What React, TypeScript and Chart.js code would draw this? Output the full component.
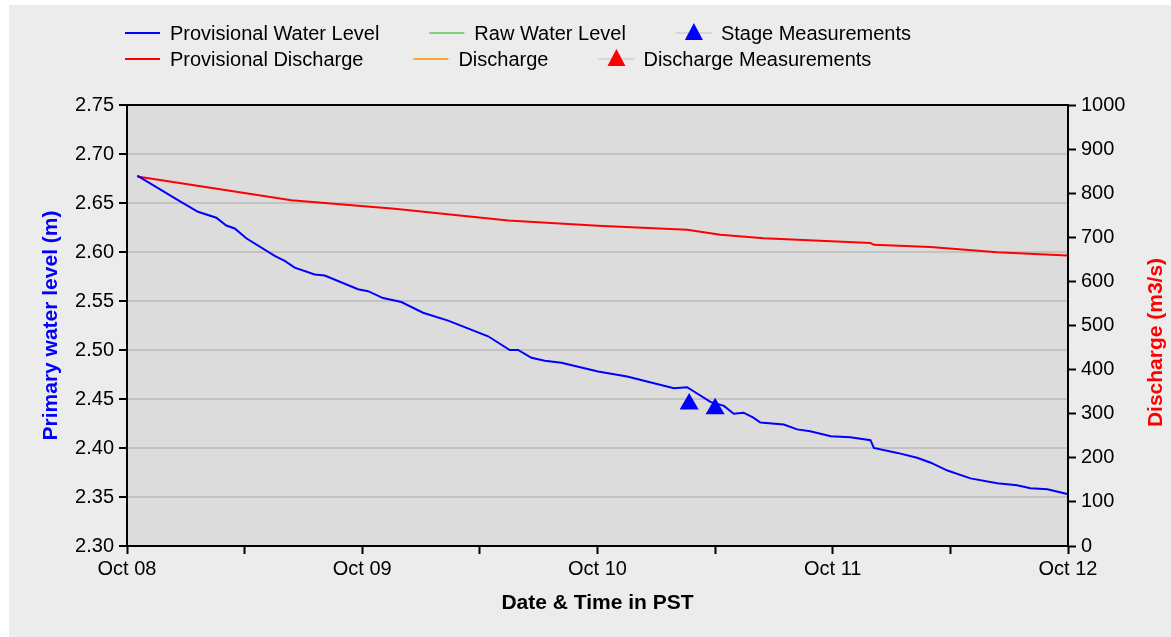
import React, { useEffect, useRef } from 'react';
import { Chart, registerables } from 'chart.js';

Chart.register(...registerables);

// ---- Data (x = hours since Oct 08 00:00 PST) ----
const xTickLabels = ['Oct 08', 'Oct 09', 'Oct 10', 'Oct 11', 'Oct 12'];

const levelHours = [
  1.05, 5.2, 7.24, 9.11, 10.13, 10.99, 12.17, 15.07, 16.09, 17.11, 19.15, 20.17,
  23.57, 24.59, 26.12, 27.99, 30.2, 32.76, 36.84, 39.05, 39.9, 41.26, 42.62, 44.32,
  48.06, 51.02, 55.79, 57.14, 59.52, 60.9, 61.9, 62.9, 63.9, 64.62, 67.0, 68.37,
  69.7, 71.8, 73.8, 75.85, 76.19, 78.6, 80.6, 82.0, 83.7, 86.05, 88.78, 90.8,
  92.17, 93.9, 95.92,
];
const levelValues = [
  2.678, 2.653, 2.641, 2.635, 2.627, 2.624, 2.614, 2.596, 2.591, 2.584, 2.577, 2.576,
  2.562, 2.56, 2.553, 2.549, 2.538, 2.53, 2.514, 2.5, 2.5, 2.492, 2.489, 2.487,
  2.478, 2.473, 2.461, 2.462, 2.447, 2.443, 2.435, 2.436, 2.431, 2.426, 2.424, 2.419,
  2.417, 2.412, 2.411, 2.408, 2.4, 2.395, 2.39, 2.385, 2.377, 2.369, 2.364, 2.362,
  2.359, 2.358, 2.353,
];

const dischargeHours = [1.05, 8, 16.77, 27.3, 38.88, 48.06, 57.14, 60.54, 64.97, 75.85, 76.2, 81.97, 88.78, 95.92];
const dischargeValues = [838, 814, 784, 765, 738, 726, 717, 706, 698, 687, 683, 678, 666, 659];

const stageHours = [57.35, 60.0];
const stageValues = [2.445, 2.44];

const legendRows = [
  ['Provisional Water Level', 'Raw Water Level', 'Stage Measurements'],
  ['Provisional Discharge', 'Discharge', 'Discharge Measurements'],
];

const leftTitle = 'Primary water level (m)';
const rightTitle = 'Discharge (m3/s)';
const bottomTitle = 'Date & Time in PST';

const FONT = "'Liberation Sans', Arial, sans-serif";

const pts = (xs: number[], ys: number[]) => xs.map((x, i) => ({ x, y: ys[i] }));

const decorPlugin = {
  id: 'decor',
  beforeDraw(chart: any) {
    const { ctx, width, height, chartArea } = chart;
    ctx.save();
    ctx.fillStyle = '#ffffff';
    ctx.fillRect(0, 0, width, height);
    ctx.fillStyle = '#ececec';
    ctx.fillRect(9, 5, width - 9, height - 5);
    ctx.fillStyle = '#dcdcdc';
    ctx.fillRect(chartArea.left, chartArea.top, chartArea.right - chartArea.left, chartArea.bottom - chartArea.top);
    ctx.restore();
  },
  afterDraw(chart: any) {
    const { ctx, chartArea } = chart;
    ctx.save();
    // top frame line
    ctx.strokeStyle = '#000';
    ctx.lineWidth = 2;
    ctx.beginPath();
    ctx.moveTo(chartArea.left, chartArea.top);
    ctx.lineTo(chartArea.right, chartArea.top);
    ctx.stroke();

    // right axis title (reads bottom to top)
    const y1 = chart.scales.y1;
    ctx.translate(y1.right - 15, (chartArea.top + chartArea.bottom) / 2 + 17);
    ctx.rotate(-Math.PI / 2);
    ctx.font = `bold 21px ${FONT}`;
    ctx.fillStyle = '#ff0000';
    ctx.textAlign = 'center';
    ctx.textBaseline = 'middle';
    ctx.fillText(rightTitle, 0, 0);
    ctx.restore();

    // legend
    ctx.save();
    ctx.font = `20px ${FONT}`;
    ctx.textBaseline = 'middle';
    ctx.textAlign = 'left';
    legendRows.forEach((row, ri) => {
      let x = 125;
      const y = 33 + ri * 26;
      row.forEach((label) => {
        const ds: any = chart.data.datasets.find((d: any) => d.label === label);
        const color = ds.borderColor;
        if (ds.showLine === false) {
          ctx.strokeStyle = '#d6d6d6';
          ctx.lineWidth = 2;
          ctx.beginPath();
          ctx.moveTo(x, y);
          ctx.lineTo(x + 36, y);
          ctx.stroke();
          ctx.fillStyle = ds.backgroundColor;
          ctx.beginPath();
          ctx.moveTo(x + 18, y - 10);
          ctx.lineTo(x + 27, y + 7);
          ctx.lineTo(x + 9, y + 7);
          ctx.closePath();
          ctx.fill();
        } else {
          ctx.strokeStyle = color;
          ctx.lineWidth = 2;
          ctx.beginPath();
          ctx.moveTo(x, y);
          ctx.lineTo(x + 35, y);
          ctx.stroke();
        }
        ctx.fillStyle = '#000';
        ctx.fillText(label, x + 45, y + 1);
        x += 45 + ctx.measureText(label).width + 50;
      });
    });
    ctx.restore();
  },
};

export default function App() {
  const canvasRef = useRef<HTMLCanvasElement | null>(null);

  useEffect(() => {
    if (!canvasRef.current) return;
    Chart.defaults.font.family = FONT;
    Chart.defaults.font.size = 20;
    Chart.defaults.color = '#000';

    const chart = new Chart(canvasRef.current, {
      type: 'line',
      data: {
        datasets: [
          {
            label: 'Stage Measurements',
            data: pts(stageHours, stageValues),
            yAxisID: 'y',
            showLine: false,
            borderColor: '#0000ff',
            backgroundColor: '#0000ff',
            pointStyle: 'triangle',
            pointRadius: 11,
            pointBorderWidth: 0,
            order: -1,
          },
          {
            label: 'Discharge Measurements',
            data: [],
            yAxisID: 'y1',
            showLine: false,
            borderColor: '#ff0000',
            backgroundColor: '#ff0000',
            pointStyle: 'triangle',
            pointRadius: 11,
            pointBorderWidth: 0,
            order: -1,
          },
          {
            label: 'Provisional Water Level',
            data: pts(levelHours, levelValues),
            yAxisID: 'y',
            borderColor: '#0000ff',
            backgroundColor: '#0000ff',
            borderWidth: 2,
            pointRadius: 0,
            tension: 0,
          },
          {
            label: 'Raw Water Level',
            data: [],
            yAxisID: 'y',
            borderColor: '#80d080',
            backgroundColor: '#80d080',
            borderWidth: 2,
            pointRadius: 0,
          },
          {
            label: 'Provisional Discharge',
            data: pts(dischargeHours, dischargeValues),
            yAxisID: 'y1',
            borderColor: '#ff0000',
            backgroundColor: '#ff0000',
            borderWidth: 2,
            pointRadius: 0,
            tension: 0,
          },
          {
            label: 'Discharge',
            data: [],
            yAxisID: 'y1',
            borderColor: '#f7a833',
            backgroundColor: '#f7a833',
            borderWidth: 2,
            pointRadius: 0,
          },
        ],
      },
      options: {
        animation: false,
        responsive: true,
        maintainAspectRatio: false,
        layout: { padding: { top: 105, left: 0, right: 0, bottom: 0 } },
        plugins: {
          legend: { display: false },
          tooltip: { enabled: false },
        },
        scales: {
          x: {
            type: 'linear',
            min: 0,
            max: 96,
            afterFit: (s: any) => {
              s.height = 91;
            },
            ticks: {
              stepSize: 12,
              autoSkip: false,
              maxRotation: 0,
              padding: 3,
              color: '#000',
              font: { size: 20 },
              callback: (v: any) => (Number(v) % 24 === 0 ? xTickLabels[Number(v) / 24] : ''),
            },
            grid: {
              drawOnChartArea: false,
              drawTicks: true,
              tickLength: 8,
              tickColor: '#000',
              tickWidth: 2,
            },
            border: { color: '#000', width: 2 },
            title: {
              display: true,
              text: bottomTitle,
              color: '#000',
              font: { size: 21, weight: 'bold' },
              padding: { top: 0, bottom: 21 },
            },
          },
          y: {
            type: 'linear',
            position: 'left',
            min: 2.3,
            max: 2.75,
            afterFit: (s: any) => {
              s.width = 127;
            },
            ticks: {
              stepSize: 0.05,
              padding: 5,
              color: '#000',
              font: { size: 20 },
              callback: (v: any) => Number(v).toFixed(2),
            },
            grid: {
              color: '#c2c2c2',
              lineWidth: 2,
              tickColor: '#000',
              tickLength: 8,
              tickWidth: 2,
            },
            border: { color: '#000', width: 2 },
            title: {
              display: true,
              text: leftTitle,
              color: '#0000ff',
              font: { size: 21, weight: 'bold' },
              padding: { top: 39, bottom: 0 },
            },
          },
          y1: {
            type: 'linear',
            position: 'right',
            min: 0,
            max: 1000,
            afterFit: (s: any) => {
              s.width = 103;
            },
            ticks: {
              stepSize: 100,
              padding: 5,
              color: '#000',
              font: { size: 20 },
              callback: (v: any) => String(Math.round(Number(v))),
            },
            grid: {
              drawOnChartArea: false,
              tickColor: '#000',
              tickLength: 8,
              tickWidth: 2,
            },
            border: { color: '#000', width: 2 },
          },
        },
      } as any,
      plugins: [decorPlugin],
    });
    return () => chart.destroy();
  }, []);

  return (
    <div style={{ position: 'absolute', left: 0, top: 0, width: 1171, height: 637 }}>
      <canvas ref={canvasRef} />
    </div>
  );
}
